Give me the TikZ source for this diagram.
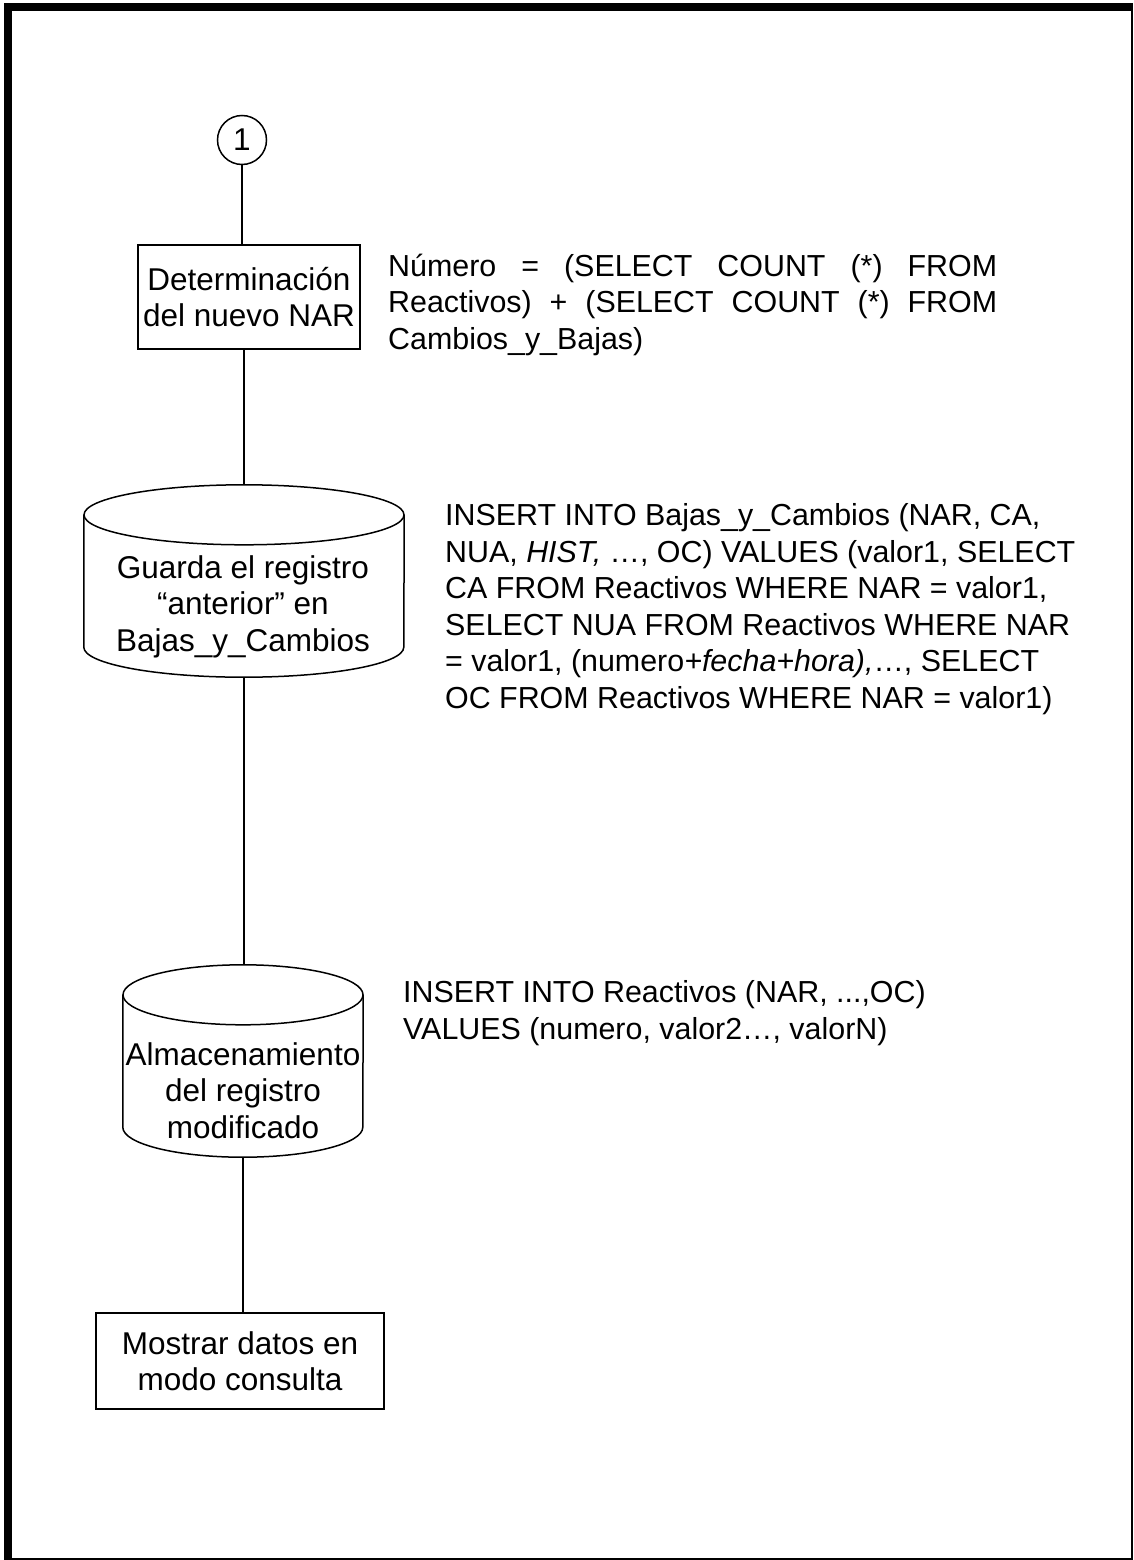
\documentclass[tikz,border=0pt]{standalone}
\usepackage{fontspec}
\setmainfont{Liberation Sans}
\begin{document}
\begin{tikzpicture}[x=1pt,y=-1pt,
  thinline/.style={line width=1.5pt, draw=black},
  txt/.style={font=\fontsize{31.5}{36.5}\selectfont, inner sep=0pt},
  notetxt/.style={font=\fontsize{30.4}{36.5}\selectfont, inner sep=0pt},
  procbox/.style={thinline, txt, rectangle, align=center},
  connector/.style={thinline, txt, circle, minimum size=49pt},
  cylbody/.style={rectangle, inner sep=0pt},
  cyltext/.style={txt, align=center, anchor=base},
  note/.style={notetxt, align=left, anchor=base west},
]
\useasboundingbox (0,0) rectangle (1133,1560);
% page frame: heavy top and left rules, light right and bottom rules
\fill (4,3) rectangle (12,1560);
\fill (4,3) rectangle (1133,11);
\fill (1131,3) rectangle (1133,1560);
\fill (4,1558) rectangle (1133,1560);

% cylinder outline drawn around an empty node: #1 node, #2 half width, #3 cap half height
\newcommand\cylout[3]{%
  \draw[thinline] ([yshift=-#3pt]#1.north west) -- ([yshift=#3pt]#1.south west)
    arc[start angle=180, end angle=360, x radius=#2pt, y radius=#3pt]
    -- ([yshift=-#3pt]#1.north east);
  \draw[thinline] ([yshift=-#3pt]#1.north) ellipse[x radius=#2pt, y radius=#3pt];
}

% flow elements (multi-line text nodes are placed by the baseline of their last line)
\node[connector] (c1) at (242,140) {1};
\node[procbox, minimum width=222pt, minimum height=104pt] (b1) at (249,297)
  {Determinación\\del nuevo NAR};
\node[cylbody, minimum width=320pt, minimum height=192pt] (g1) at (244,581) {};
\cylout{g1}{160}{30}
\node[cyltext] (g1t) at (243,651) {Guarda el registro\\“anterior” en\\Bajas\_y\_Cambios};
\node[cylbody, minimum width=240pt, minimum height=192pt] (g2) at (243,1061) {};
\cylout{g2}{120}{30}
\node[cyltext] (g2t) at (243,1138) {Almacenamiento\\del registro\\modificado};
\node[procbox, minimum width=288pt, minimum height=96pt] (b2) at (240,1361)
  {Mostrar datos en\\modo consulta};

% connectors
\draw[thinline] (c1.south) -- (c1.south |- b1.north);
\draw[thinline] (g1.north |- b1.south) -- (g1.north);
\draw[thinline] (g1.south) -- (g1.south |- g2.north);
\draw[thinline] (g2.south) -- (g2.south |- b2.north);

% SQL annotations
\node[note] (n1) at (388,349)
  {\makebox[609pt][s]{Número = (SELECT COUNT (*) FROM}\\
   \makebox[609pt][s]{Reactivos) + (SELECT COUNT (*) FROM}\\
   Cambios\_y\_Bajas)};
\node[note] (n2) at (445,708)
  {INSERT INTO Bajas\_y\_Cambios (NAR, CA,\\
   NUA, \textit{HIST,} …, OC) VALUES (valor1, SELECT\\
   CA FROM Reactivos WHERE NAR = valor1,\\
   SELECT NUA FROM Reactivos WHERE NAR\\
   = valor1, (numero\textit{+fecha+hora),}…, SELECT\\
   OC FROM Reactivos WHERE NAR = valor1)};
\node[note] (n3) at (403,1039)
  {INSERT INTO Reactivos (NAR, ...,OC)\\
   VALUES (numero, valor2…, valorN)};
\end{tikzpicture}
\end{document}
